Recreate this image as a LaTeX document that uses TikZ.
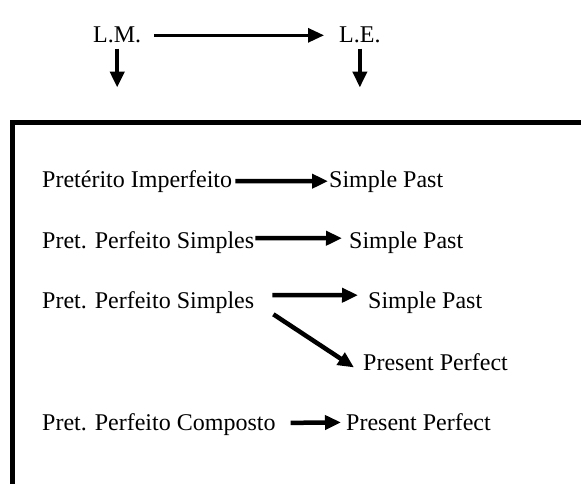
\documentclass[tikz,border=0pt]{standalone}
\usepackage{fontspec}
\setmainfont{Liberation Serif}
\usetikzlibrary{arrows.meta}

\begin{document}
\begin{tikzpicture}[x=1pt, y=-1pt, >={Triangle[length=16pt,width=14pt]},
  every node/.style={font=\fontsize{24}{28}\selectfont, inner sep=1pt, anchor=base west},
  link/.style={->, line width=4.5pt}]
  \useasboundingbox (0,0) rectangle (581,484);
  \clip (0,0) rectangle (581,484);
  % top: the two languages
  \node (lm) at (92,43) {L.M.};
  \node (le) at (338,43) {L.E.};
  \draw[link, line width=3pt, shorten <=12pt, shorten >=14pt] (lm) -- (le);
  \coordinate (lmd) at ([yshift=-43pt]lm.south);
  \coordinate (led) at ([yshift=-43pt]le.south);
  \draw[link, line width=4pt] ([yshift=-4pt]lm.south) -- (lmd);
  \draw[link, line width=4pt] ([yshift=-4pt]le.south) -- (led);
  % frame
  \draw[line width=4.5pt] (12.5,700) |- (700,122.5);
  % tenses
  \node (pi)  at (41,187)  {Pretérito Imperfeito};
  \node (sp1) at (328,187) {Simple Past};
  \draw[link, shorten <=2pt] (pi) -- (sp1);
  \node (ps1) at (41,248)  {Pret. Perfeito Simples};
  \node (sp2) at (348,248) {Simple Past};
  \draw[link, shorten >=6pt] ([yshift=4pt]ps1.east) -- ([yshift=4pt]sp2.west);
  \node (ps2) at (41,308)  {Pret. Perfeito Simples};
  \node (sp3) at (367,308) {Simple Past};
  \draw[link, shorten <=17pt, shorten >=9pt] ([yshift=7pt]ps2.east) -- ([yshift=7pt]sp3.west);
  \node (pp1) at (362,370) {Present Perfect};
  \draw[link] ([xshift=18pt]ps2.south east) -- ([xshift=-8pt,yshift=4pt]pp1.south west);
  \node (pc)  at (41,430)  {Pret. Perfeito Composto};
  \node (pp2) at (345,430) {Present Perfect};
  \draw[link, shorten <=14pt, shorten >=4pt] (pc) -- (pp2);
\end{tikzpicture}
\end{document}
